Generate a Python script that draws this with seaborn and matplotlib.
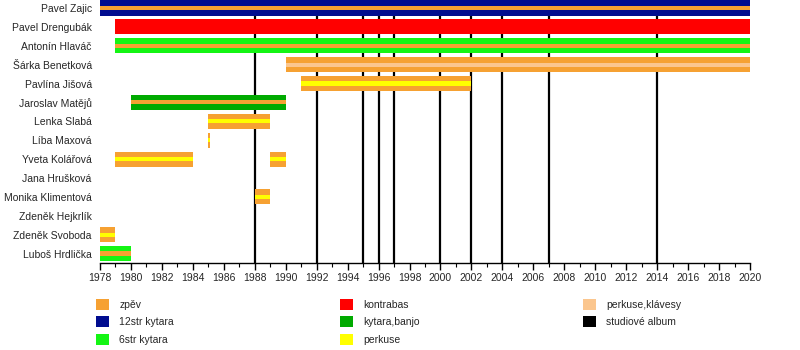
import matplotlib
matplotlib.use("Agg")
import matplotlib.pyplot as plt
from matplotlib.patches import Patch
from matplotlib.ticker import MultipleLocator
import seaborn as sns

# ---- data ----
members = ["Pavel Zajic", "Pavel Drengubák", "Antonín Hlaváč", "Šárka Benetková",
           "Pavlína Jišová", "Jaroslav Matějů", "Lenka Slabá", "Líba Maxová",
           "Yveta Kolářová", "Jana Hrušková", "Monika Klimentová", "Zdeněk Hejkrlík",
           "Zdeněk Svoboda", "Luboš Hrdlička"]

period_member = ["Pavel Zajic", "Pavel Drengubák", "Antonín Hlaváč", "Šárka Benetková",
                 "Pavlína Jišová", "Jaroslav Matějů", "Lenka Slabá", "Líba Maxová",
                 "Yveta Kolářová", "Yveta Kolářová", "Monika Klimentová",
                 "Zdeněk Svoboda", "Luboš Hrdlička"]
period_start = [1978, 1979, 1979, 1990, 1991, 1980, 1985, 1985, 1979, 1989, 1988, 1978, 1978]
period_end = [2020, 2020, 2020, 2020, 2002, 1990, 1989, 1985.08, 1984, 1990, 1989, 1979, 1980]
period_main = ["12str kytara", "kontrabas", "6str kytara", "zpěv", "zpěv", "kytara,banjo",
               "zpěv", "zpěv", "zpěv", "zpěv", "zpěv", "zpěv", "6str kytara"]
period_stripe = ["zpěv", None, "zpěv", "perkuse,klávesy", "perkuse", "zpěv",
                 "perkuse", "perkuse", "perkuse", "perkuse", "perkuse", "perkuse", "zpěv"]

albums = [1988, 1992, 1995, 1996, 1997, 2000, 2002, 2004, 2007, 2014]

roles = ["zpěv", "12str kytara", "6str kytara", "kontrabas", "kytara,banjo",
         "perkuse", "perkuse,klávesy"]
role_colors = ["#F6A132", "#000C8F", "#14F514", "#FF0000", "#00AA00",
               "#FFFF00", "#FBC68E"]

# ---- plot ----
sns.set_theme(style="white")
plt.rcParams["font.family"] = ["Liberation Sans", "DejaVu Sans"]

cmap = dict(zip(roles, role_colors))
fig = plt.figure(figsize=(8, 3.5), dpi=100)
ax = fig.add_axes([100 / 800, 1 - 263 / 350, 650 / 800, 264.5 / 350])

ypos = {m: i for i, m in enumerate(members)}

for x in albums:
    ax.axvline(x, color="black", lw=1.6, zorder=1)

for m, s, e, mr, sr in zip(period_member, period_start, period_end, period_main, period_stripe):
    y = ypos[m]
    ax.barh(y, e - s, left=s, height=0.8, color=cmap[mr], linewidth=0, zorder=2)
    if sr is not None:
        ax.barh(y, e - s, left=s, height=0.22, color=cmap[sr], linewidth=0, zorder=3)

ax.set_xlim(1978, 2020)
ax.set_ylim(13.5, -0.5)
ax.set_yticks(range(len(members)))
ax.set_yticklabels(members, fontsize=7.5)
ax.tick_params(axis="y", length=0, pad=6)
ax.xaxis.set_major_locator(MultipleLocator(2))
ax.xaxis.set_minor_locator(MultipleLocator(1))
ax.tick_params(axis="x", which="major", length=5, width=1, color="black", labelsize=7.5, pad=2,
               direction="out", bottom=True)
ax.tick_params(axis="x", which="minor", length=3, width=0.8, color="black", bottom=True)
for side in ["top", "right", "left"]:
    ax.spines[side].set_visible(False)
ax.spines["bottom"].set_color("black")
ax.spines["bottom"].set_linewidth(1)
ax.grid(False)

col1 = ["zpěv", "12str kytara", "6str kytara"]
col2 = ["kontrabas", "kytara,banjo", "perkuse"]
col3 = ["perkuse,klávesy"]

def handles(names):
    return [Patch(facecolor=cmap[n], edgecolor="none", label=n) for n in names]

for names, x0, extra in [(col1, 96, []), (col2, 340, []),
                         (col3, 583, [Patch(facecolor="black", edgecolor="none", label="studiové album")])]:
    h = handles(names) + extra
    fig.legend(handles=h, loc="upper left", bbox_to_anchor=(x0 / 800, 1 - 299 / 350),
               frameon=False, fontsize=7.5, handlelength=1.25, handleheight=1.25,
               handletextpad=1.0, labelspacing=0.6, borderpad=0, borderaxespad=0)

fig.savefig("out.png", dpi=100)
